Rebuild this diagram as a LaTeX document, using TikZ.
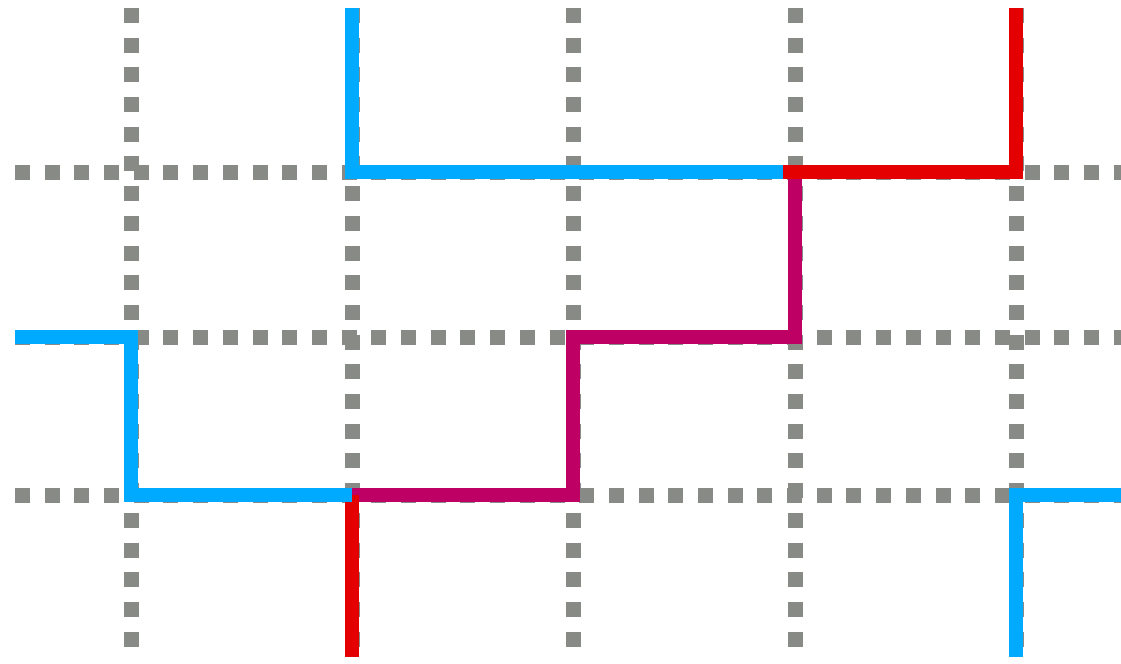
\documentclass[tikz,border=0pt]{standalone}
\usepackage{tikz}
\usetikzlibrary{positioning}
\definecolor{GridGray}{RGB}{136,138,134}
\definecolor{PathBlue}{RGB}{0,170,255}
\definecolor{PathRed}{RGB}{228,0,0}
\definecolor{PathMagenta}{RGB}{190,0,100}
\begin{document}
\begin{tikzpicture}[x=0.02cm, y=-0.02cm,
	grid/.style={GridGray, line width=0.3cm, dash pattern=on 0.3cm off 0.294cm},
	ln/.style={line width=0.28cm, line join=miter}]
	\useasboundingbox (0,0) rectangle (1121,663);
	\fill[white] (0,0) rectangle (1121,663);
	% dotted grid
	\foreach \gx in {131,352,573,795,1016}
		\draw[grid] (\gx,8) -- (\gx,660);
	\foreach \gy in {172,337,495}
		\draw[grid] (15,\gy) -- (1125,\gy);
	% corners
	\coordinate (bt) at (352,8);
	\coordinate (b1) at (352,172);
	\coordinate (p1) at (795,172);
	\coordinate (r1) at (1016,172);
	\coordinate (rt) at (1016,8);
	\coordinate (p2) at (795,337);
	\coordinate (p3) at (573,337);
	\coordinate (p4) at (573,495);
	\coordinate (p5) at (352,495);
	\coordinate (rb) at (352,657);
	\coordinate (bl) at (15,337);
	\coordinate (b2) at (131,337);
	\coordinate (b3) at (131,495);
	\coordinate (br) at (1121,495);
	\coordinate (b4) at (1016,495);
	\coordinate (bb) at (1016,657);
	% paths
	\draw[ln, PathMagenta] (p1) -- (p2) -- (p3) -- (p4) -- (p5);
	\draw[ln, PathBlue] (bt) -- (b1) -- (p1);
	\draw[ln, PathRed] ([xshift=-7]p1) -- (r1) -- (rt);
	\draw[ln, PathRed] (p5) -- (rb);
	\draw[ln, PathBlue] (bl) -- (b2) -- (b3) -- (p5);
	\draw[ln, PathBlue] (br) -- (b4) -- (bb);
\end{tikzpicture}
\end{document}
